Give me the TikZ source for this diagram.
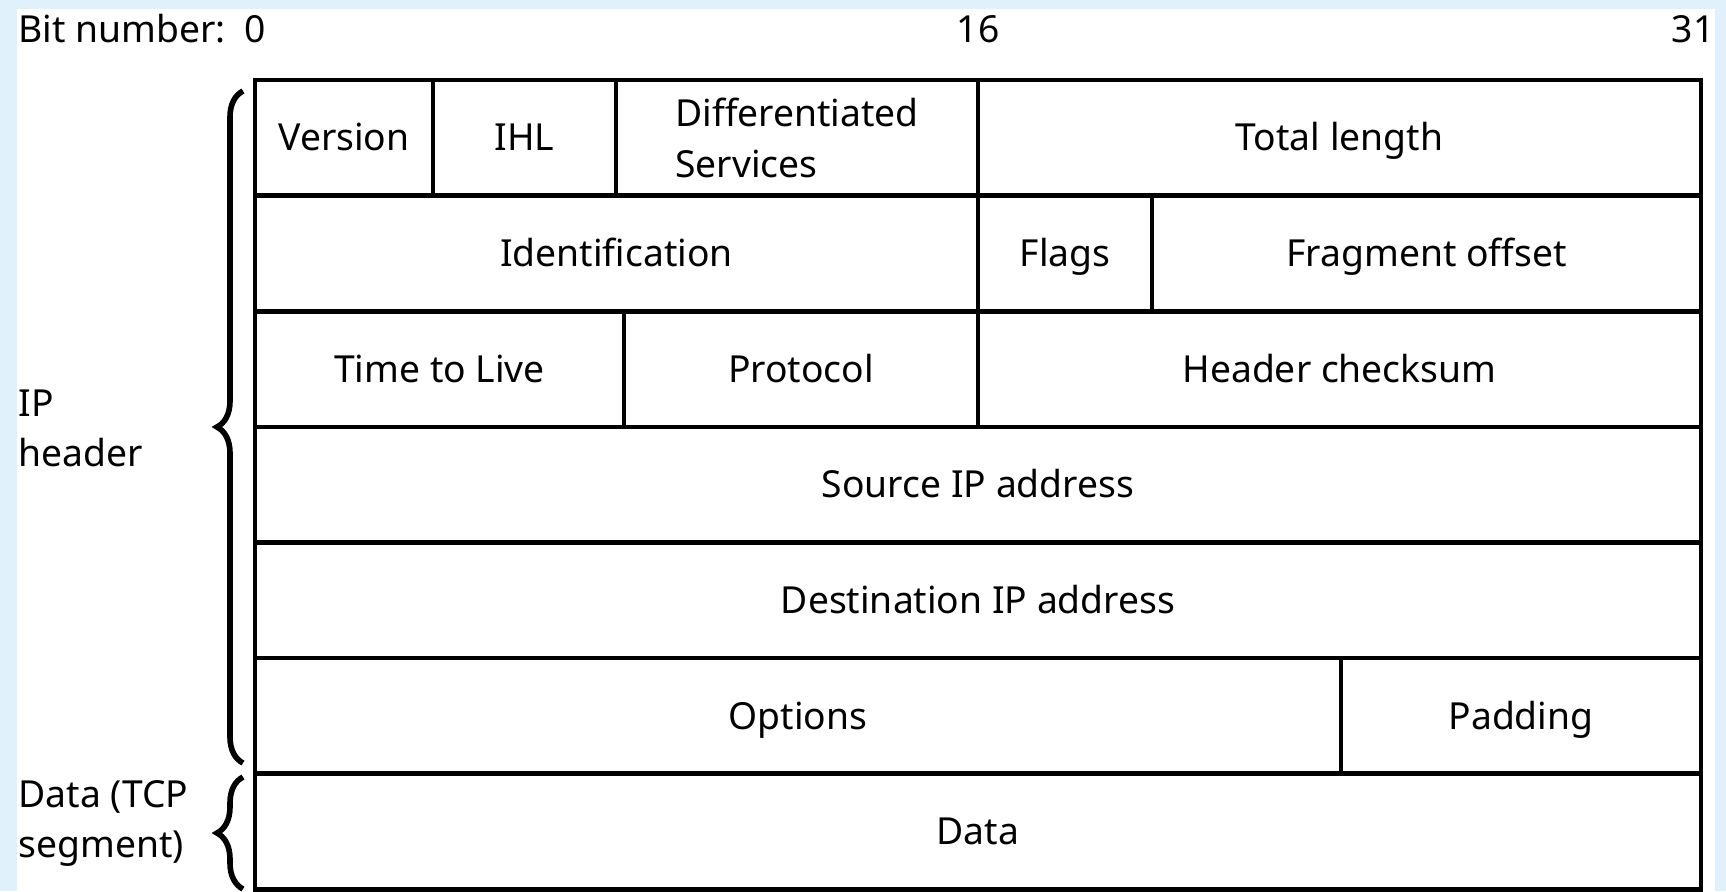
\documentclass[tikz,border=0pt]{standalone}
\usepackage{fontspec}
\setmainfont{Noto Sans}
\usetikzlibrary{positioning,decorations.pathreplacing}
\definecolor{pageblue}{RGB}{225,241,252}

\begin{document}
\begin{tikzpicture}[
    font=\fontsize{10.6}{14.3}\selectfont,
    box/.style={draw, line width=1.3pt, outer sep=0pt, inner sep=0pt, minimum height=1.156cm},
    cell/.style={box, text height=7.5pt, text depth=0pt},
    lbl/.style={inner sep=0pt, align=left},
    hdrbrace/.style={decorate, decoration={brace, amplitude=0.26cm}, line width=1.6pt}
]
    \fill[pageblue] (0,0) rectangle (17.26,-8.91);
    \fill[white] (0.17,-0.09) rectangle (17.15,-8.91);
    \useasboundingbox (0,0) rectangle (17.26,-8.91);

    % bit numbers
    \node[lbl, anchor=base west] (bitlbl) at (0.18,-0.42) {Bit number:};
    \node[lbl, anchor=base] (bit0) at (2.55,-0.42) {0};
    \node[lbl, anchor=base] (bit16) at (9.78,-0.42) {16};
    \node[lbl, anchor=base east] (bit31) at (17.15,-0.42) {31};

    % header words
    \node[cell, minimum width=1.78cm, anchor=north west] (version) at (2.55,-0.80) {Version};
    \node[cell, minimum width=1.83cm, right=0pt of version] (ihl) {IHL};
    \node[box, minimum width=3.62cm, align=left, right=0pt of ihl] (diffserv) {Differentiated\\Services};
    \node[cell, minimum width=7.23cm, right=0pt of diffserv] (totlen) {Total length};

    \node[cell, minimum width=7.23cm, below right=0pt of version.south west] (ident) {Identification};
    \node[cell, minimum width=1.74cm, right=0pt of ident] (flags) {Flags};
    \node[cell, minimum width=5.49cm, right=0pt of flags] (fragoff) {Fragment offset};

    \node[cell, minimum width=3.69cm, below right=0pt of ident.south west] (ttl) {Time to Live};
    \node[cell, minimum width=3.54cm, right=0pt of ttl] (proto) {Protocol};
    \node[cell, minimum width=7.23cm, right=0pt of proto] (chksum) {Header checksum};

    \node[cell, minimum width=14.46cm, below right=0pt of ttl.south west] (srcip) {Source IP address};
    \node[cell, minimum width=14.46cm, below right=0pt of srcip.south west] (dstip) {Destination IP address};

    \node[cell, minimum width=10.86cm, below right=0pt of dstip.south west] (options) {Options};
    \node[cell, minimum width=3.6cm, right=0pt of options] (padding) {Padding};

    \node[cell, minimum width=14.46cm, below right=0pt of options.south west] (data) {Data};

    % braces
    \draw[hdrbrace] (2.43,-7.63) -- (2.43,-0.91);
    \draw[hdrbrace] (2.43,-8.89) -- (2.43,-7.77);
    \node[lbl, anchor=north west] (iphdr) at (0.18,-3.89) {IP\\header};
    \node[lbl, anchor=north west] (tcpseg) at (0.18,-7.80) {Data (TCP\\segment)};
\end{tikzpicture}
\end{document}
